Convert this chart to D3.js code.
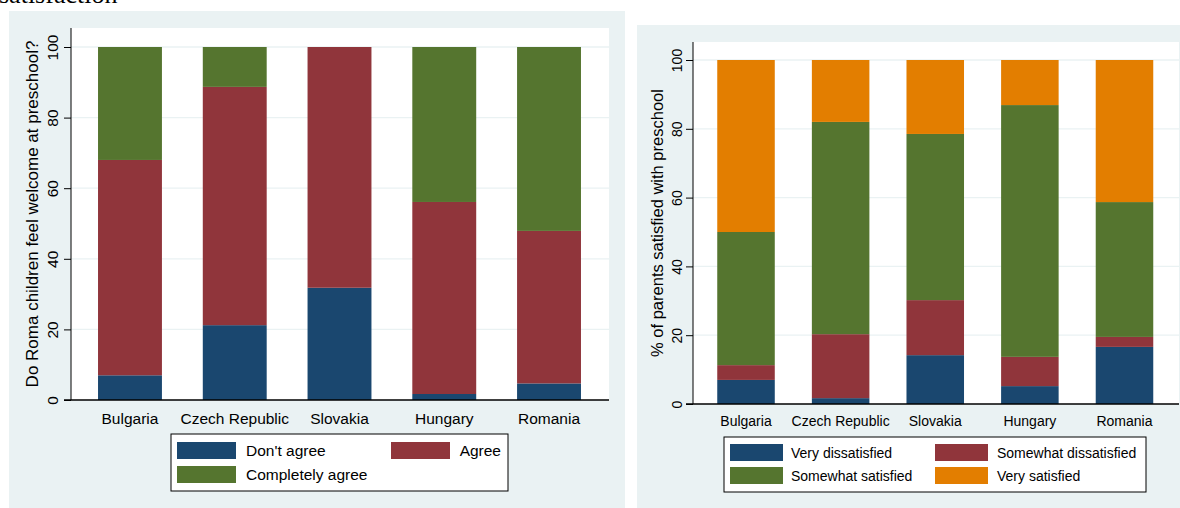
<!DOCTYPE html>
<html>
<head>
<meta charset="utf-8">
<script src="https://cdn.jsdelivr.net/npm/d3@7"></script>
<style>
  body { margin: 0; background: #fff; }
  text { font-family: "Liberation Sans", Arial, sans-serif; fill: #000; }
</style>
</head>
<body>
<div id="chart"></div>
<script>
// countries on both panels
var countries = ["Bulgaria", "Czech Republic", "Slovakia", "Hungary", "Romania"];
var yTicks = [0, 20, 40, 60, 80, 100];

// left panel: do Roma children feel welcome (% per answer)
var welcomeKeys = ["Don't agree", "Agree", "Completely agree"];
var dontAgree = [7.0, 21.2, 31.8, 1.7, 4.7];
var agree = [61.0, 67.5, 68.2, 54.4, 43.2];
var completelyAgree = [32.0, 11.3, 0.0, 43.9, 52.1];

// right panel: parents satisfied with preschool (%)
var satisfKeys = ["Very dissatisfied", "Somewhat dissatisfied", "Somewhat satisfied", "Very satisfied"];
var veryDissat = [7.0, 1.7, 14.2, 5.2, 16.6];
var somewhatDissat = [4.3, 18.6, 16.0, 8.5, 2.9];
var somewhatSat = [38.7, 61.7, 48.3, 73.2, 39.2];
var verySat = [50.0, 18.0, 21.5, 13.1, 41.3];

var colors = ["#1a476f", "#90353b", "#55752f", "#e37e00"];
var bg = "#eaf2f3";

var svg = d3.select("#chart").append("svg")
  .attr("width", 1180)
  .attr("height", 508);

// cut off caption at top of page
svg.append("text")
  .attr("x", -1)
  .attr("y", 3)
  .style("font-family", "'Liberation Serif', serif")
  .attr("font-size", 26)
  .text("satisfaction");

function buildRows(series, keys) {
  return countries.map(function(c, i) {
    var row = {country: c};
    keys.forEach(function(k, j) { row[k] = series[j][i]; });
    return row;
  });
}

function drawPanel(p) {
  // panel background
  svg.append("rect")
    .attr("x", p.bg[0]).attr("y", p.bg[1])
    .attr("width", p.bg[2]).attr("height", p.bg[3])
    .attr("fill", bg);

  // plot region
  svg.append("rect")
    .attr("x", p.left).attr("y", p.top)
    .attr("width", p.right - p.left).attr("height", p.bottom - p.top)
    .attr("fill", "#fff");

  var x = d3.scaleBand()
    .domain(countries)
    .range(p.xRange)
    .paddingInner(p.padIn)
    .paddingOuter(p.padIn / 2);

  var y = d3.scaleLinear()
    .domain([0, 100])
    .range([p.bottom, p.y100]);

  // gridlines
  svg.append("g").selectAll("line")
    .data(yTicks.slice(1))
    .enter().append("line")
      .attr("x1", p.left).attr("x2", p.right)
      .attr("y1", function(d) { return y(d); })
      .attr("y2", function(d) { return y(d); })
      .attr("stroke", bg)
      .attr("stroke-width", 1.3);

  var rows = buildRows(p.series, p.keys);
  var stacked = d3.stack().keys(p.keys)(rows);

  var g = svg.append("g");
  g.selectAll(".layer")
      .data(stacked)
    .enter().append("g")
      .attr("class", "layer")
      .attr("fill", function(d, i) { return colors[i]; })
    .selectAll("rect")
      .data(function(d) { return d; })
    .enter().append("rect")
      .attr("x", function(d) { return x(d.data.country); })
      .attr("width", x.bandwidth())
      .attr("y", function(d) { return y(d[1]); })
      .attr("height", function(d) { return y(d[0]) - y(d[1]); });

  // y axis
  var ya = svg.append("g")
    .attr("transform", "translate(" + p.left + ",0)")
    .call(d3.axisLeft(y).tickValues(yTicks).tickSize(7).tickSizeOuter(0));
  ya.select(".domain").remove();
  ya.selectAll(".tick line").attr("stroke", "#000");
  ya.selectAll(".tick text")
    .attr("transform", "rotate(-90)")
    .attr("x", 0)
    .attr("y", -p.tickGap)
    .attr("dy", 0)
    .attr("text-anchor", "middle")
    .attr("font-size", p.tickFont)
    .style("font-family", "'Liberation Sans', Arial, sans-serif");
  svg.append("line")
    .attr("x1", p.left).attr("x2", p.left)
    .attr("y1", p.top).attr("y2", p.bottom)
    .attr("stroke", "#000");

  // x axis
  svg.append("line")
    .attr("x1", p.left - 7).attr("x2", p.right)
    .attr("y1", p.bottom).attr("y2", p.bottom)
    .attr("stroke", "#000")
    .attr("stroke-width", 1.3);

  svg.append("g").selectAll("text")
    .data(countries)
    .enter().append("text")
      .attr("x", function(d) { return x(d) + x.bandwidth() / 2; })
      .attr("y", p.catY)
      .attr("text-anchor", "middle")
      .attr("font-size", p.catFont)
      .text(function(d) { return d; });

  // axis title
  svg.append("text")
    .attr("transform", "translate(" + p.titleX + "," + ((p.top + p.bottom) / 2) + ") rotate(-90)")
    .attr("text-anchor", "middle")
    .attr("font-size", p.titleFont)
    .text(p.title);

  // legend
  var L = p.legend;
  svg.append("rect")
    .attr("x", L.box[0]).attr("y", L.box[1])
    .attr("width", L.box[2]).attr("height", L.box[3])
    .attr("fill", "#fff")
    .attr("stroke", "#000");

  p.keys.forEach(function(k, i) {
    var col = i % 2, row = Math.floor(i / 2);
    var sy = L.rowY[row];
    svg.append("rect")
      .attr("x", L.swX[col]).attr("y", sy)
      .attr("width", L.swW).attr("height", L.swH)
      .attr("fill", colors[i]);
    svg.append("text")
      .attr("x", L.txtX[col])
      .attr("y", sy + L.swH / 2)
      .attr("dy", "0.36em")
      .attr("text-anchor", L.anchor[col])
      .attr("font-size", p.legFont)
      .text(k);
  });
}

drawPanel({
  bg: [9, 11, 616, 497],
  left: 71, right: 609, top: 28, bottom: 400, y100: 47,
  xRange: [77.6, 601.4], padIn: 0.39,
  series: [dontAgree, agree, completelyAgree],
  keys: welcomeKeys,
  tickGap: 13, tickFont: 15.5,
  catY: 423.5, catFont: 15.5,
  titleX: 38, titleFont: 17,
  title: "Do Roma children feel welcome at preschool?",
  legFont: 15.5,
  legend: {
    box: [171, 434, 337, 57],
    swX: [177, 391], swW: 59, swH: 17,
    rowY: [442, 466],
    txtX: [246, 501], anchor: ["start", "end"]
  }
});

drawPanel({
  bg: [637, 25, 543, 483],
  left: 693, right: 1179, top: 42, bottom: 404, y100: 60,
  xRange: [698.7, 1171.8], padIn: 0.392,
  series: [veryDissat, somewhatDissat, somewhatSat, verySat],
  keys: satisfKeys,
  tickGap: 11, tickFont: 14,
  catY: 426, catFont: 14,
  titleX: 663, titleFont: 16.5,
  title: "% of parents satisfied with preschool",
  legFont: 14,
  legend: {
    box: [724, 437, 422, 55],
    swX: [730, 935], swW: 53, swH: 17,
    rowY: [444, 467],
    txtX: [791, 997], anchor: ["start", "start"]
  }
});
</script>
</body>
</html>
